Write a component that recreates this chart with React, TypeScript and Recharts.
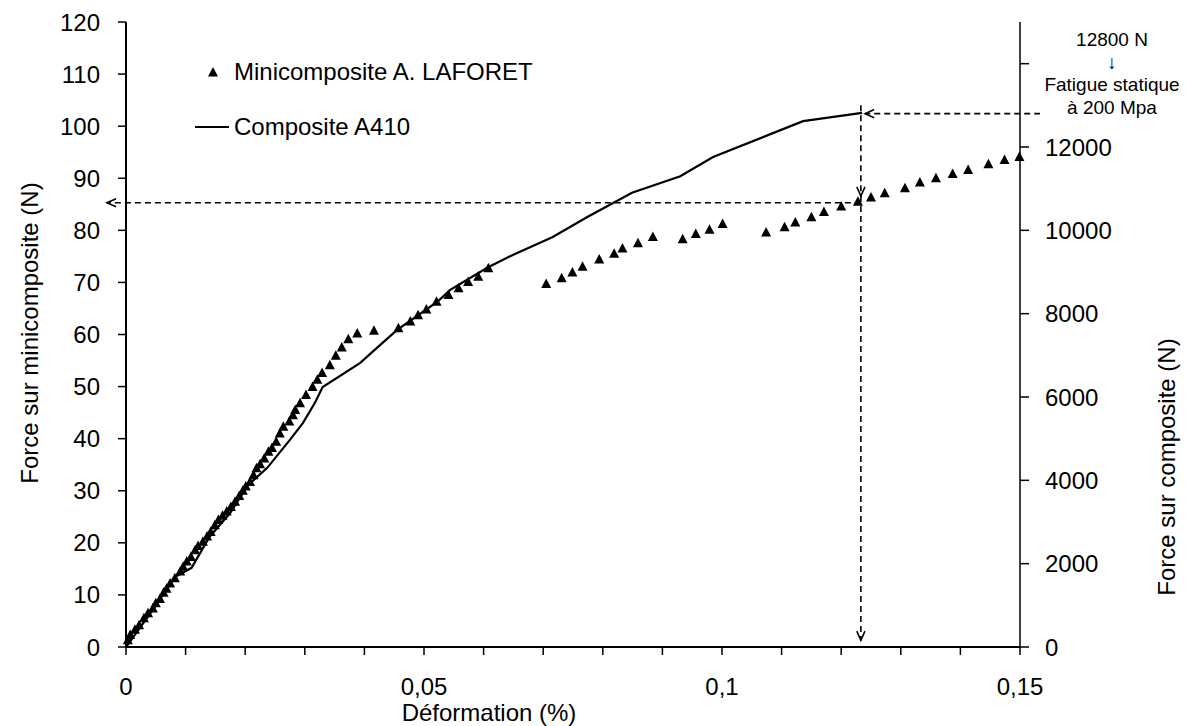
import { ComposedChart, Line, Scatter, XAxis, YAxis, ReferenceLine, Legend, Label } from 'recharts'

const FONT = 'Arial, "Liberation Sans", sans-serif'

// minicomposite A. LAFORET : déformation (%) -> force (N), axe de gauche
const miniStrain = [
  0.0003, 0.0007, 0.0015, 0.0022, 0.003, 0.0037, 0.0045, 0.005, 0.0057, 0.0063,
  0.0068, 0.0074, 0.0082, 0.0091, 0.0096, 0.0102, 0.0109, 0.0116, 0.0121, 0.0129,
  0.0136, 0.0142, 0.0149, 0.0155, 0.0162, 0.0169, 0.0176, 0.0183, 0.019, 0.0196,
  0.0201, 0.0208, 0.0214, 0.0219, 0.0225, 0.0232, 0.0239, 0.0245, 0.0252, 0.0258,
  0.0264, 0.0274, 0.028, 0.0284, 0.0292, 0.0302, 0.0313, 0.0321, 0.0329, 0.0342,
  0.0352, 0.0362, 0.0373, 0.0388, 0.0416, 0.0457, 0.0477, 0.049, 0.0504, 0.0521,
  0.0541, 0.0558, 0.0574, 0.0591, 0.0608, 0.0705, 0.0731, 0.0749, 0.0766, 0.0794,
  0.0819, 0.0833, 0.0859, 0.0884, 0.0934, 0.0956, 0.0979, 0.1001, 0.1074, 0.1105,
  0.1123, 0.115, 0.1171, 0.12, 0.1228, 0.125, 0.1273, 0.1307, 0.1332, 0.1359,
  0.1387, 0.1413, 0.1447, 0.1474, 0.1499,
]
const miniForce = [
  1.3, 2.3, 3.3, 4.2, 5.5, 6.5, 7.4, 8.4, 9.2, 10.4,
  11.2, 12.2, 13.2, 14.5, 15.4, 16.4, 17.3, 18.6, 19.4, 20.2,
  21.2, 22.1, 23.4, 24.4, 25.2, 26, 26.9, 27.9, 29, 30,
  30.8, 31.7, 33, 34.3, 35.1, 36.2, 37.5, 38.2, 39.4, 41,
  42.3, 43.3, 44.5, 45.5, 46.8, 48.4, 49.9, 51.3, 52.6, 54.1,
  55.9, 57.5, 59.1, 60.2, 60.7, 61.2, 62.5, 63.7, 64.8, 66.3,
  67.6, 68.9, 70.1, 71.1, 72.7, 69.7, 70.8, 71.9, 73, 74.4,
  75.5, 76.5, 77.5, 78.7, 78.3, 79.3, 80.1, 81.2, 79.6, 80.6,
  81.5, 82.5, 83.5, 84.6, 85.5, 86.3, 87.1, 88.1, 89.2, 90,
  90.8, 91.6, 92.7, 93.5, 94.1,
]

// composite A410 : déformation (%) -> force (N), axe de droite
const compStrain = [
  0, 0.0045, 0.0082, 0.011, 0.014, 0.0175, 0.0205, 0.0237, 0.0275, 0.0297,
  0.0317, 0.033, 0.0393, 0.0421, 0.0455, 0.0522, 0.0544, 0.0606, 0.0649, 0.0716,
  0.0774, 0.0849, 0.093, 0.0985, 0.1136, 0.1235,
]
const compForce = [
  0, 890, 1680, 1900, 2640, 3220, 3890, 4300, 4970, 5380,
  5860, 6240, 6820, 7180, 7610, 8280, 8570, 9100, 9410, 9840,
  10320, 10900, 11300, 11760, 12620, 12820,
]

const xTicks = [0, 0.01, 0.02, 0.03, 0.04, 0.05, 0.06, 0.07, 0.08, 0.09, 0.1, 0.11, 0.12, 0.13, 0.14, 0.15]
const xLabelAt = [0, 0.05, 0.1, 0.15]
const xLabelText = ['0', '0,05', '0,1', '0,15']
const leftTicks = [0, 10, 20, 30, 40, 50, 60, 70, 80, 90, 100, 110, 120]
const rightTicks = [0, 2000, 4000, 6000, 8000, 10000, 12000, 14000]
// 14000 sits under the annotation box in the original, so no label there
const rightHidden = [14000]

const miniData = miniStrain.map((x, i) => ({ x, y: miniForce[i] }))
const compData = compStrain.map((x, i) => ({ x, n: compForce[i] }))

const fmtX = (v: number) => {
  const i = xLabelAt.findIndex(t => Math.abs(t - v) < 1e-9)
  return i >= 0 ? xLabelText[i] : ''
}
const fmtRight = (v: number) => (rightHidden.includes(v) ? '' : String(v))

function Triangle(p: any) {
  const { cx, cy } = p
  return <polygon points={`${cx},${cy - 5.5} ${cx - 5},${cy + 4} ${cx + 5},${cy + 4}`} fill="#000" />
}

function DashedArrow(p: any) {
  const { x1, y1, x2, y2 } = p
  const a = Math.atan2(y2 - y1, x2 - x1)
  const L = 10
  const w = 0.42
  const h1 = `${x2 - L * Math.cos(a - w)},${y2 - L * Math.sin(a - w)}`
  const h2 = `${x2 - L * Math.cos(a + w)},${y2 - L * Math.sin(a + w)}`
  return (
    <g>
      <line x1={x1} y1={y1} x2={x2} y2={y2} stroke="#000" strokeWidth={1.6} strokeDasharray="6 4" />
      <polyline points={`${h1} ${x2},${y2} ${h2}`} fill="none" stroke="#000" strokeWidth={1.6} />
    </g>
  )
}

function LegendBox() {
  const row = { display: 'flex', alignItems: 'center', height: 30, fontSize: 24, fontFamily: FONT, color: '#000' }
  return (
    <div>
      <div style={row}>
        <svg width={44} height={30}>
          <polygon points="23,10 18,19.5 28,19.5" fill="#000" />
        </svg>
        <span>Minicomposite A. LAFORET</span>
      </div>
      <div style={{ ...row, marginTop: 25 }}>
        <svg width={44} height={30}>
          <line x1={5} y1={15} x2={39} y2={15} stroke="#000" strokeWidth={2} />
        </svg>
        <span>Composite A410</span>
      </div>
    </div>
  )
}

export default function App() {
  const tick = { fontSize: 24, fill: '#000', fontFamily: FONT }
  return (
    <div style={{ position: 'absolute', left: 0, top: 0, width: 1192, height: 726, background: '#fff' }}>
      <ComposedChart width={1192} height={726} margin={{ top: 22, right: 0, bottom: 0, left: 0 }}>
        <XAxis
          type="number"
          dataKey="x"
          domain={[0, 0.15]}
          ticks={xTicks}
          tickFormatter={fmtX}
          height={79}
          tick={tick}
          tickSize={8}
          tickMargin={23}
          axisLine={{ stroke: '#000', strokeWidth: 2 }}
          tickLine={{ stroke: '#000', strokeWidth: 1.5 }}
        >
          <Label
            content={() => (
              <text x={489} y={721} textAnchor="middle" fontSize={24} fontFamily={FONT} fill="#000">
                Déformation (%)
              </text>
            )}
          />
        </XAxis>
        <YAxis
          yAxisId="left"
          type="number"
          dataKey="y"
          domain={[0, 120]}
          ticks={leftTicks}
          width={126}
          tick={tick}
          tickSize={8}
          tickMargin={18}
          axisLine={{ stroke: '#000', strokeWidth: 2 }}
          tickLine={{ stroke: '#000', strokeWidth: 1.5 }}
        >
          <Label
            content={() => (
              <text x={38} y={333} transform="rotate(-90 38 333)" textAnchor="middle" fontSize={24} fontFamily={FONT} fill="#000">
                Force sur minicomposite (N)
              </text>
            )}
          />
        </YAxis>
        <YAxis
          yAxisId="right"
          orientation="right"
          type="number"
          domain={[0, 15000]}
          ticks={rightTicks}
          tickFormatter={fmtRight}
          width={172}
          tick={tick}
          tickSize={9}
          tickMargin={16}
          axisLine={{ stroke: '#000', strokeWidth: 1.5 }}
          tickLine={{ stroke: '#000', strokeWidth: 1.5 }}
        >
          <Label
            content={() => (
              <text x={1175} y={467} transform="rotate(-90 1175 467)" textAnchor="middle" fontSize={24} fontFamily={FONT} fill="#000">
                Force sur composite (N)
              </text>
            )}
          />
        </YAxis>
        <Legend layout="vertical" align="center" verticalAlign="middle" wrapperStyle={{ left: 190, top: 57, width: 420 }} content={<LegendBox />} />
        <Line
          yAxisId="right"
          data={compData}
          dataKey="n"
          name="Composite A410"
          type="linear"
          stroke="#000"
          strokeWidth={2.2}
          dot={false}
          activeDot={false}
          isAnimationActive={false}
        />
        <Scatter
          yAxisId="left"
          data={miniData}
          dataKey="y"
          name="Minicomposite A. LAFORET"
          shape={<Triangle />}
          isAnimationActive={false}
        />
        <ReferenceLine yAxisId="right" ifOverflow="visible" segment={[{ x: 0.1534, y: 12800 }, { x: 0.124, y: 12800 }]} shape={DashedArrow} />
        <ReferenceLine yAxisId="left" ifOverflow="visible" segment={[{ x: 0.1233, y: 104 }, { x: 0.1233, y: 86.6 }]} shape={DashedArrow} />
        <ReferenceLine yAxisId="left" ifOverflow="visible" segment={[{ x: 0.1233, y: 86.6 }, { x: 0.1233, y: 1.3 }]} shape={DashedArrow} />
        <ReferenceLine yAxisId="left" ifOverflow="visible" segment={[{ x: 0.1233, y: 85.3 }, { x: -0.0032, y: 85.3 }]} shape={DashedArrow} />
      </ComposedChart>
      <div
        style={{
          position: 'absolute',
          left: 1040,
          top: 29,
          width: 144,
          background: '#fff',
          textAlign: 'center',
          fontFamily: FONT,
          fontSize: 19,
          lineHeight: '22.5px',
          color: '#000',
        }}
      >
        <div>12800 N</div>
        <div>↓</div>
        <div>Fatigue statique</div>
        <div>à 200 Mpa</div>
      </div>
    </div>
  )
}
